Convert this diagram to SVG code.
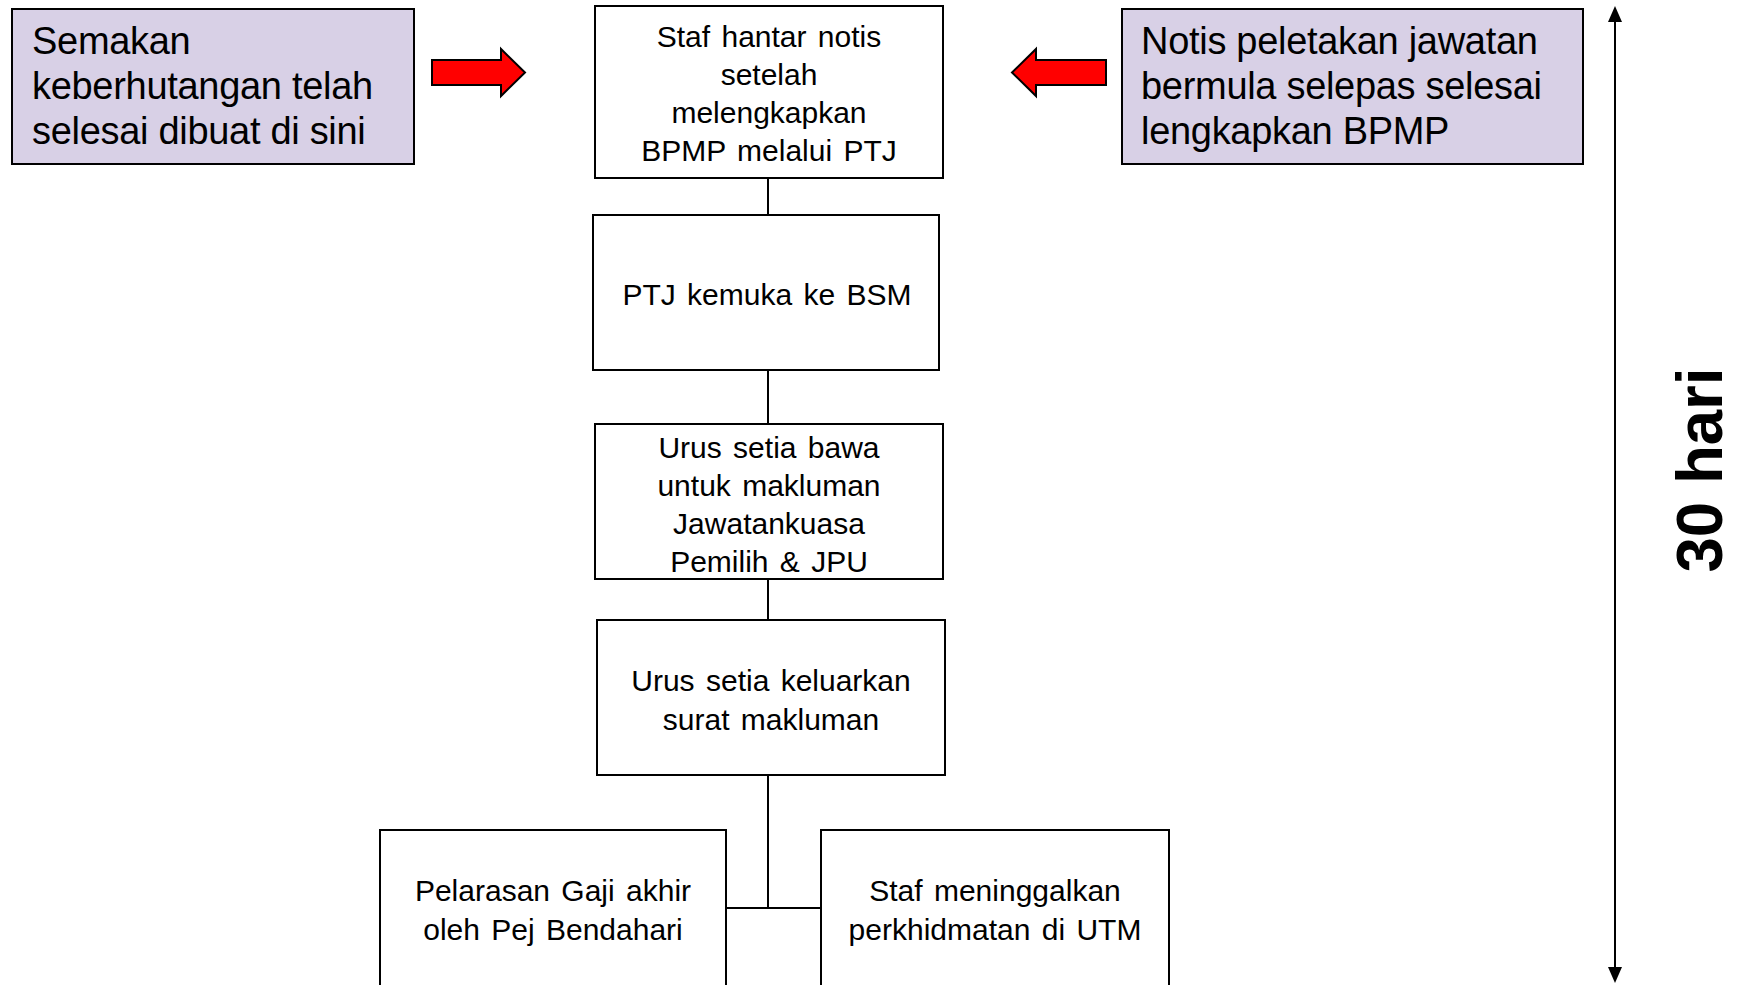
<svg xmlns="http://www.w3.org/2000/svg" width="1737" height="985" viewBox="0 0 1737 985">
<style>
.box{fill:#ffffff;stroke:#000;stroke-width:2}
.note{fill:#d8d0e6;stroke:#000;stroke-width:2}
.t{font-family:"Liberation Sans",Arial,sans-serif;font-size:30px;fill:#000;text-anchor:middle;word-spacing:3px}
.n{font-family:"Liberation Sans",Arial,sans-serif;font-size:38px;fill:#000;letter-spacing:-0.3px}
.red{fill:#ff0000;stroke:#000;stroke-width:2;stroke-linejoin:miter}
.conn{stroke:#000;stroke-width:2;fill:none}
.head{fill:#000}
</style>

<g id="connectors">
<line class="conn" x1="768" y1="178" x2="768" y2="215"/>
<line class="conn" x1="768" y1="370" x2="768" y2="424"/>
<line class="conn" x1="768" y1="579" x2="768" y2="620"/>
<polyline class="conn" points="768,775 768,908"/>
<line class="conn" x1="726" y1="908" x2="821" y2="908"/>
<line class="conn" x1="1615" y1="18" x2="1615" y2="970"/>
<polygon class="head" points="1615,6 1622,22 1608,22"/>
<polygon class="head" points="1615,983 1622,967 1608,967"/>
</g>

<g id="note-left">
<rect class="note" x="12" y="9" width="402" height="155"/>
<text class="n" x="32" y="54">Semakan</text>
<text class="n" x="32" y="99">keberhutangan telah</text>
<text class="n" x="32" y="144">selesai dibuat di sini</text>
</g>

<g id="arrow-right">
<polygon class="red" points="432,60 501,60 501,49 525,72.5 501,96 501,85 432,85"/>
</g>

<g id="arrow-left">
<polygon class="red" points="1106,60 1036,60 1036,49 1012,72.5 1036,96 1036,85 1106,85"/>
</g>

<g id="note-right">
<rect class="note" x="1122" y="9" width="461" height="155"/>
<text class="n" x="1141" y="54">Notis peletakan jawatan</text>
<text class="n" x="1141" y="99">bermula selepas selesai</text>
<text class="n" x="1141" y="144">lengkapkan BPMP</text>
</g>

<g id="box1">
<rect class="box" x="595" y="6" width="348" height="172"/>
<text class="t" x="769" y="47">Staf hantar notis</text>
<text class="t" x="769" y="85">setelah</text>
<text class="t" x="769" y="123">melengkapkan</text>
<text class="t" x="769" y="161">BPMP melalui PTJ</text>
</g>

<g id="box2">
<rect class="box" x="593" y="215" width="346" height="155"/>
<text class="t" x="767" y="305">PTJ kemuka ke BSM</text>
</g>

<g id="box3">
<rect class="box" x="595" y="424" width="348" height="155"/>
<text class="t" x="769" y="458">Urus setia bawa</text>
<text class="t" x="769" y="496">untuk makluman</text>
<text class="t" x="769" y="534">Jawatankuasa</text>
<text class="t" x="769" y="572">Pemilih &amp; JPU</text>
</g>

<g id="box4">
<rect class="box" x="597" y="620" width="348" height="155"/>
<text class="t" x="771" y="691">Urus setia keluarkan</text>
<text class="t" x="771" y="730">surat makluman</text>
</g>

<g id="box5">
<rect class="box" x="380" y="830" width="346" height="165"/>
<text class="t" x="553" y="901">Pelarasan Gaji akhir</text>
<text class="t" x="553" y="940">oleh Pej Bendahari</text>
</g>

<g id="box6">
<rect class="box" x="821" y="830" width="348" height="165"/>
<text class="t" x="995" y="901">Staf meninggalkan</text>
<text class="t" x="995" y="940">perkhidmatan  di UTM</text>
</g>

<g id="label-30hari">
<text transform="translate(1722,470) rotate(-90)" x="0" y="0" text-anchor="middle" font-family="'Liberation Sans',Arial,sans-serif" font-weight="bold" font-size="64" textLength="205" lengthAdjust="spacingAndGlyphs">30 hari</text>
</g>
</svg>
